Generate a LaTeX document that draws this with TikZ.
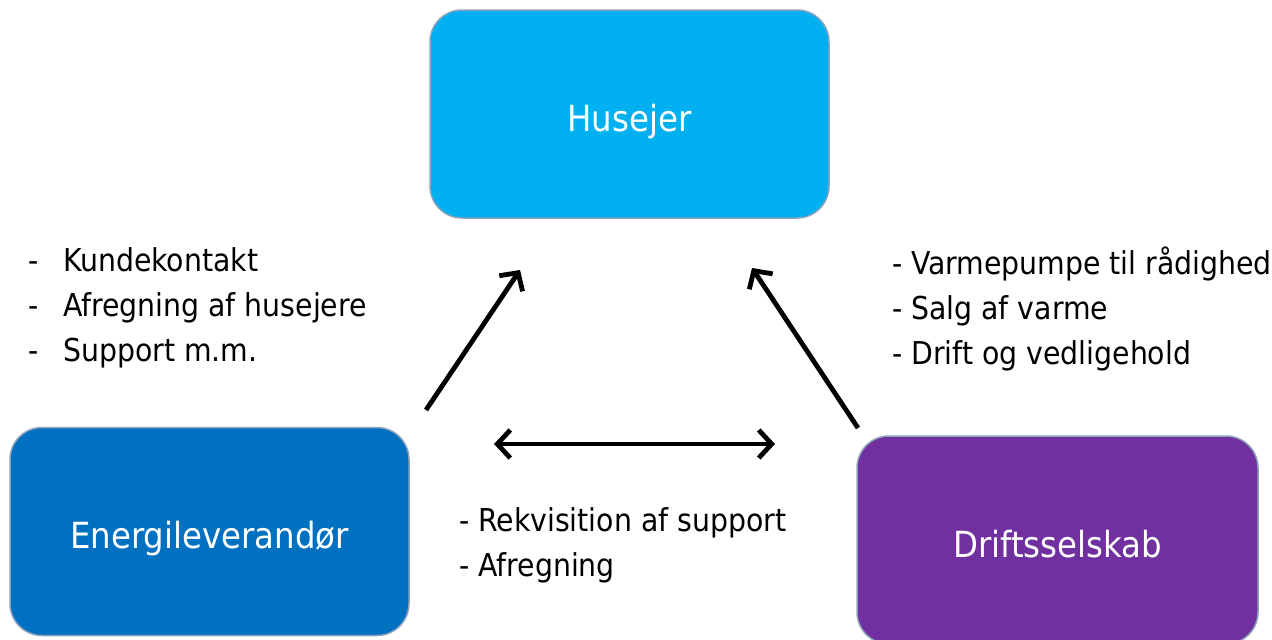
\documentclass[tikz,border=0pt]{standalone}
\usepackage{fontspec}
\setmainfont{DejaVu Sans Condensed}
\usetikzlibrary{arrows.meta}
\definecolor{cHus}{HTML}{00B0F0}
\definecolor{cEne}{HTML}{0070C0}
\definecolor{cDri}{HTML}{7030A0}
\definecolor{cEdge}{HTML}{8EA2BC}
\tikzset{
  party/.style={draw=cEdge, line width=1.5pt, rounded corners=32pt, text=white,
    minimum width=#1, minimum height=208pt, inner sep=0pt,
    text height=34pt, text depth=0pt,
    font=\fontsize{36}{40}\selectfont},
  lst/.style={anchor=north west, align=left, inner sep=0pt, text=black,
    font=\fontsize{31.5}{45}\selectfont},
  rel/.style={line width=4.8pt, -{Straight Barb[length=13pt,width=28pt]}},
  relboth/.style={line width=4.8pt, {Straight Barb[length=13pt,width=28pt]}-{Straight Barb[length=13pt,width=28pt]}}
}
\begin{document}
\begin{tikzpicture}[x=1pt,y=-1pt]
\useasboundingbox (0,0) rectangle (1272,640);
\clip (0,0) rectangle (1272,640);
\node[party=399pt, fill=cHus] (hus) at (629.5,114) {Husejer};
\node[party=399pt, fill=cEne] (ene) at (209.5,531.5) {Energileverandør};
\node[party=401pt, fill=cDri] (dri) at (1057.5,540) {Driftsselskab};

\node[lst] (left) at (28,247) {\makebox[35pt][l]{-}Kundekontakt\\\makebox[35pt][l]{-}Afregning af husejere\\\makebox[35pt][l]{-}Support m.m.};
\node[lst] (right) at (892,247) {- Varmepumpe til rådighed\\- Salg af varme\\- Drift og vedligehold};
\node[lst] (mid) at (459,507) {- Rekvisition af support\\- Afregning};

\coordinate (a1s) at (426,410);
\coordinate (a1e) at (520,270);
\coordinate (a2s) at (858,428);
\coordinate (a2e) at (752,268);
\coordinate (a3s) at (494,444);
\coordinate (a3e) at (775,444);
\draw[rel] (a1s) -- (a1e);
\draw[rel] (a2s) -- (a2e);
\draw[relboth] (a3s) -- (a3e);
\end{tikzpicture}
\end{document}
